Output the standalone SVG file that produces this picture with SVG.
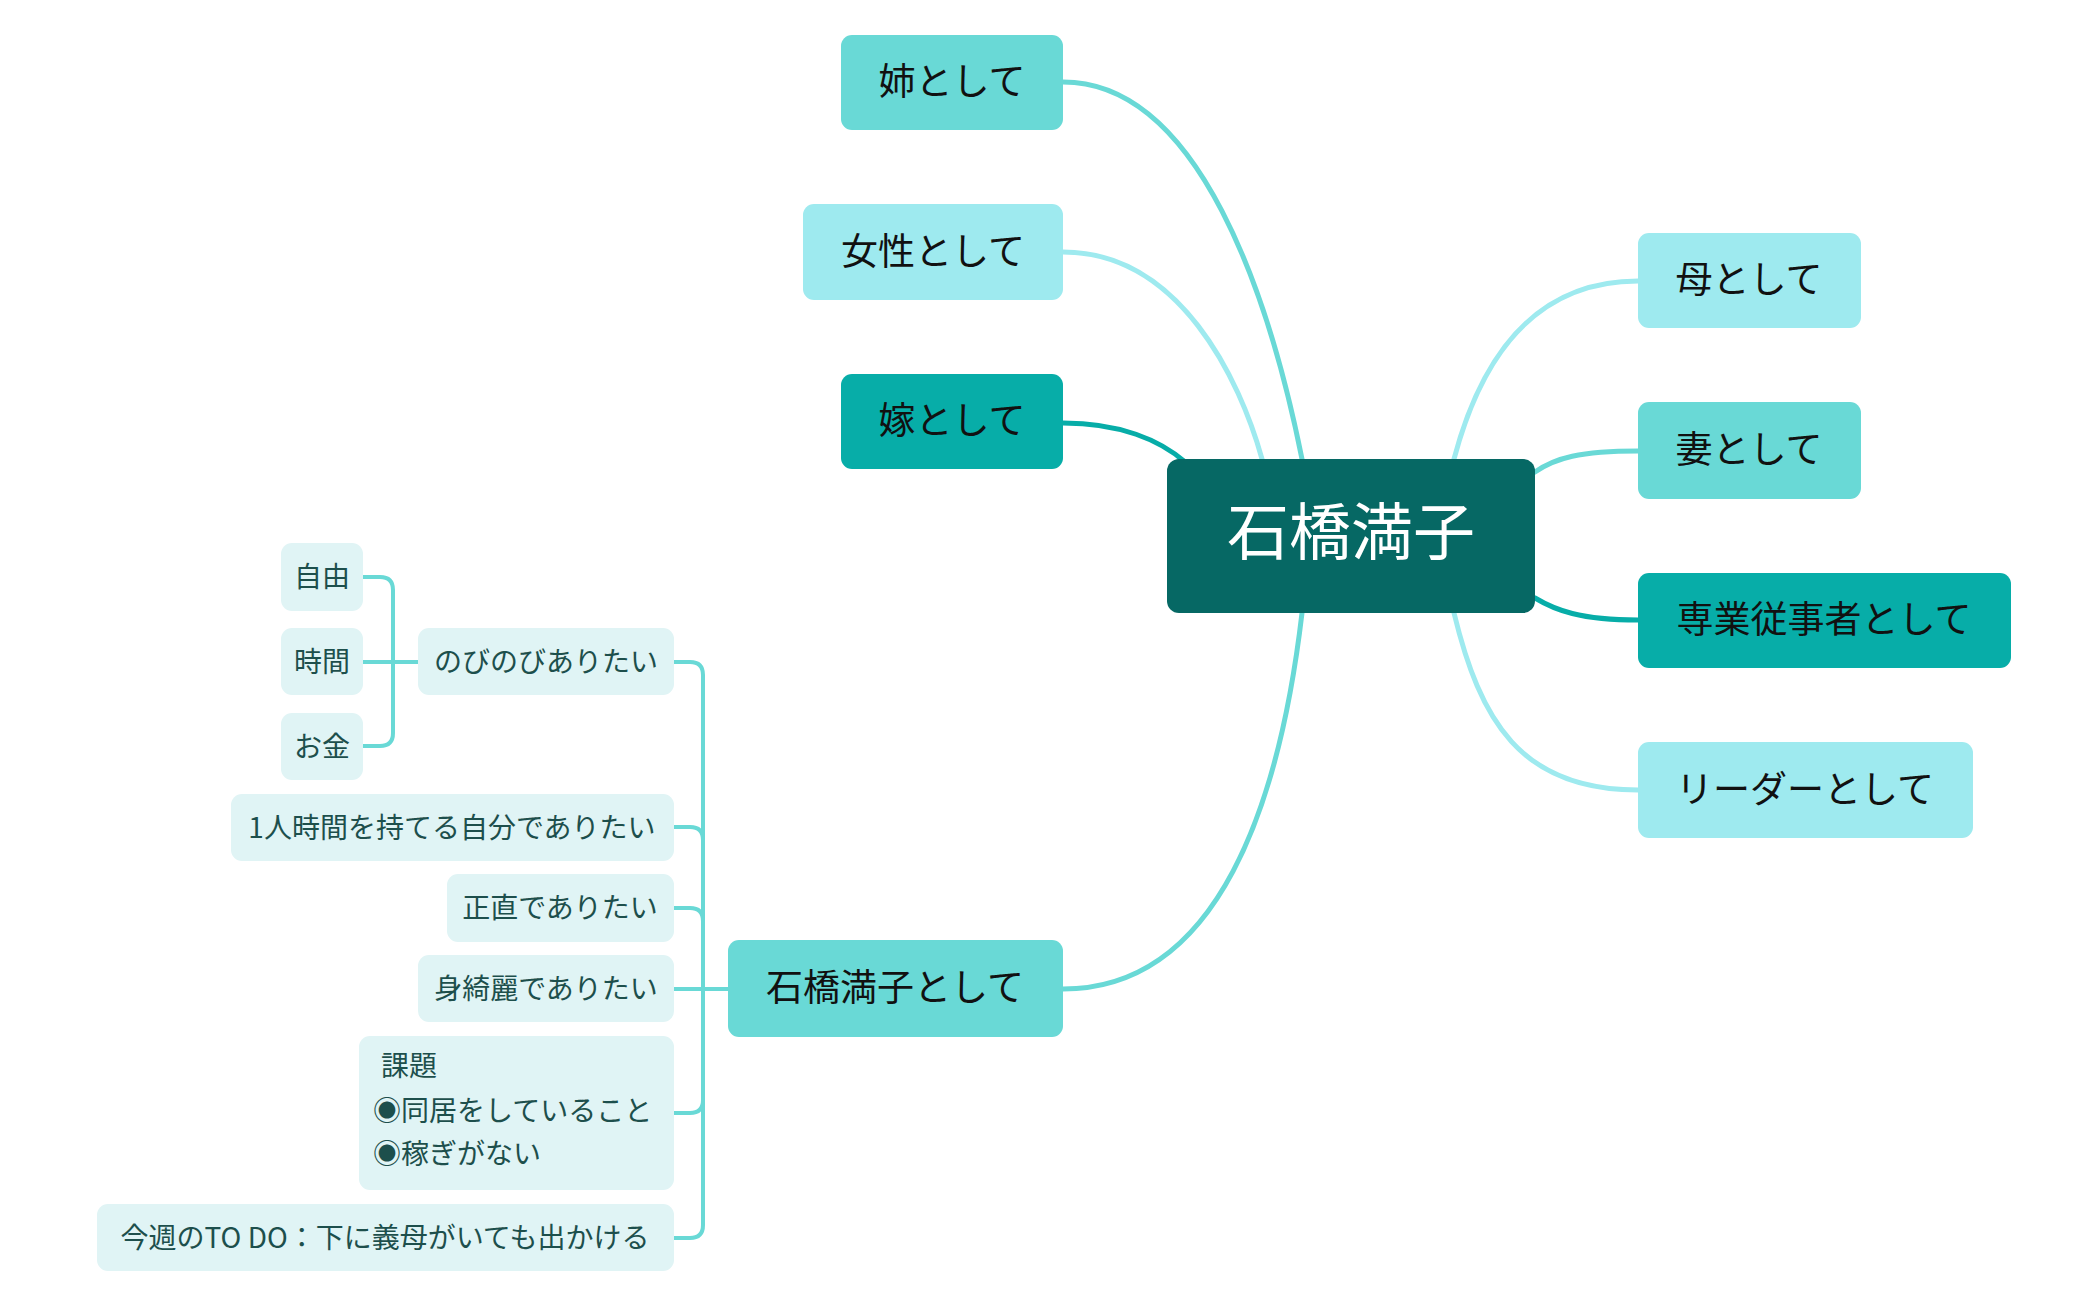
<svg xmlns="http://www.w3.org/2000/svg" width="2099" height="1300" viewBox="0 0 2099 1300">
<style>
text{font-family:"Noto Sans CJK JP","Noto Sans",sans-serif}
.m{font-size:37px;fill:#111}
.s{font-size:28px;fill:#1d4f4c}
.c{fill:none;stroke-width:5;stroke-linecap:round}
.sc{fill:none;stroke:#69d9d6;stroke-width:4}
.sub{fill:#e0f4f5}
</style>
<rect width="2099" height="1300" fill="#fff"/>
<g id="connectors">
<path class="c" stroke="#69d9d6" d="M1063,82 C1200,82 1270,300 1302,459"/>
<path class="c" stroke="#9eeaef" d="M1063,252 C1180,252 1240,380 1262,459"/>
<path class="c" stroke="#07ada8" d="M1063,423 C1120,423 1160,440 1185,462"/>
<path class="c" stroke="#9eeaef" d="M1638,281 C1520,281 1475,380 1454,459"/>
<path class="c" stroke="#69d9d6" d="M1638,451 C1580,451 1555,458 1535,472"/>
<path class="c" stroke="#07ada8" d="M1638,620 C1580,620 1555,610 1535,598"/>
<path class="c" stroke="#9eeaef" d="M1638,790 C1520,790 1480,720 1454,613"/>
<path class="c" stroke="#69d9d6" d="M1063,989 C1220,989 1280,800 1302,613"/>
<path class="sc" d="M674,662 H690 Q703,662 703,675 V1225 Q703,1238 690,1238 H674"/>
<path class="sc" d="M674,827 H690 Q703,827 703,840"/>
<path class="sc" d="M674,908 H690 Q703,908 703,921"/>
<path class="sc" d="M674,1113 H690 Q703,1113 703,1100"/>
<path class="sc" d="M674,989 H728"/>
<path class="sc" d="M363,577 H380 Q393,577 393,590 V733 Q393,746 380,746 H363"/>
<path class="sc" d="M363,662 H418"/>
</g>
<g id="center"><rect x="1167" y="459" width="368" height="154" rx="12" fill="#066864"/><text x="1351" y="555" font-size="62" fill="#fff" text-anchor="middle">石橋満子</text></g>
<g id="ane"><rect x="841" y="35" width="222" height="95" rx="11" fill="#69d9d6"/><text class="m" x="952" y="95" text-anchor="middle">姉として</text></g>
<g id="josei"><rect x="803" y="204" width="260" height="96" rx="11" fill="#9eeaef"/><text class="m" x="933" y="265" text-anchor="middle">女性として</text></g>
<g id="yome"><rect x="841" y="374" width="222" height="95" rx="11" fill="#07ada8"/><text class="m" x="952" y="434" text-anchor="middle">嫁として</text></g>
<g id="haha"><rect x="1638" y="233" width="223" height="95" rx="11" fill="#9eeaef"/><text class="m" x="1749" y="293" text-anchor="middle">母として</text></g>
<g id="tsuma"><rect x="1638" y="402" width="223" height="97" rx="11" fill="#69d9d6"/><text class="m" x="1749" y="463" text-anchor="middle">妻として</text></g>
<g id="sengyo"><rect x="1638" y="573" width="373" height="95" rx="11" fill="#07ada8"/><text class="m" x="1824" y="633" text-anchor="middle">専業従事者として</text></g>
<g id="leader"><rect x="1638" y="742" width="335" height="96" rx="11" fill="#9eeaef"/><text class="m" x="1805" y="803" text-anchor="middle">リーダーとして</text></g>
<g id="self"><rect x="728" y="940" width="335" height="97" rx="11" fill="#69d9d6"/><text class="m" x="895" y="1001" text-anchor="middle">石橋満子として</text></g>
<g id="nobi"><rect class="sub" x="418" y="628" width="256" height="67" rx="11"/><text class="s" x="546" y="672" text-anchor="middle">のびのびありたい</text></g>
<g id="jiyu"><rect class="sub" x="281" y="543" width="82" height="68" rx="11"/><text class="s" x="322" y="587" text-anchor="middle">自由</text></g>
<g id="jikan"><rect class="sub" x="281" y="628" width="82" height="67" rx="11"/><text class="s" x="322" y="672" text-anchor="middle">時間</text></g>
<g id="okane"><rect class="sub" x="281" y="713" width="82" height="67" rx="11"/><text class="s" x="322" y="757" text-anchor="middle">お金</text></g>
<g id="hitori"><rect class="sub" x="231" y="794" width="443" height="67" rx="11"/><text class="s" x="452" y="838" text-anchor="middle">1人時間を持てる自分でありたい</text></g>
<g id="shojiki"><rect class="sub" x="447" y="874" width="227" height="68" rx="11"/><text class="s" x="560" y="918" text-anchor="middle">正直でありたい</text></g>
<g id="mikirei"><rect class="sub" x="418" y="955" width="256" height="67" rx="11"/><text class="s" x="546" y="999" text-anchor="middle">身綺麗でありたい</text></g>
<g id="kadai"><rect class="sub" x="359" y="1036" width="315" height="154" rx="11"/><text class="s" x="381" y="1076">課題</text><text class="s" x="373" y="1121">◉同居をしていること</text><text class="s" x="373" y="1164">◉稼ぎがない</text></g>
<g id="todo"><rect class="sub" x="97" y="1204" width="577" height="67" rx="11"/><text class="s" x="385" y="1248" text-anchor="middle">今週のTO DO：下に義母がいても出かける</text></g>
</svg>
